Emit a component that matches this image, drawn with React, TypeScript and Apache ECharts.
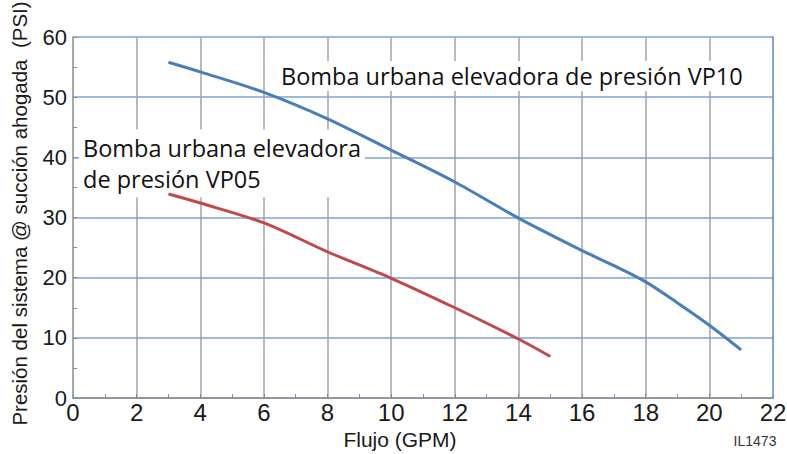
import React, { useEffect, useRef } from "react";
import * as echarts from "echarts";

const vp10Flow = [3, 4, 6, 8, 10, 12, 14, 16, 17, 18, 19, 20, 21];
const vp10Pressure = [55.8, 54.2, 50.8, 46.4, 41.2, 35.9, 29.9, 24.5, 22.0, 19.3, 15.8, 12.1, 8.0];
const vp05Flow = [3, 4, 6, 8, 10, 12, 14, 15];
const vp05Pressure = [33.9, 32.4, 29.1, 24.3, 19.9, 15.0, 9.8, 6.9];

const vp10Label = "Bomba urbana elevadora de presión VP10";
const vp05Label = "Bomba urbana elevadora\nde presión VP05";
const xAxisName = "Flujo (GPM)";
const yAxisName = "Presión del sistema @ succión ahogada  (PSI)";
const figureId = "IL1473";

const AXIS_FONT = '"Liberation Sans", Arial, sans-serif';
const NOTE_FONT = '"Open Sans", "Noto Sans", sans-serif';

export default function App() {
  const ref = useRef<HTMLDivElement>(null);
  useEffect(() => {
    if (!ref.current) return;
    const chart = echarts.init(ref.current, undefined, { renderer: "svg" });
    const option: any = {
      animation: false,
      backgroundColor: "#ffffff",
      grid: { left: 73, right: 14, top: 37, bottom: 56, containLabel: false, outerBoundsMode: "none" },
      xAxis: {
        type: "value",
        min: 0,
        max: 22,
        interval: 2,
        name: xAxisName,
        nameLocation: "middle",
        nameGap: 31,
        nameTextStyle: {
          fontFamily: AXIS_FONT,
          fontSize: 21,
          color: "#1a1a1a",
          padding: [0, 46, 0, 0],
        },
        axisLine: { show: true, lineStyle: { color: "#8c8c8c", width: 1.5 } },
        axisTick: { show: true, inside: true, length: 4, lineStyle: { color: "#8c8c8c" } },
        minorTick: { show: true, splitNumber: 2, length: 4, lineStyle: { color: "#8c8c8c", width: 1 } },
        axisLabel: {
          fontFamily: AXIS_FONT,
          fontSize: 24,
          color: "#1a1a1a",
          margin: 2,
        },
        splitLine: {
          show: true,
          showMinLine: false,
          showMaxLine: false,
          lineStyle: { color: "#a3a3a3", width: 1.5 },
        },
      },
      yAxis: [
        {
          type: "value",
          min: 0,
          max: 60,
          interval: 10,
          name: yAxisName,
          nameLocation: "middle",
          nameGap: 43,
          nameTextStyle: {
            fontFamily: AXIS_FONT,
            fontSize: 20.5,
            color: "#1a1a1a",
            padding: [0, 0, 0, 8],
          },
          axisLine: { show: true, lineStyle: { color: "#8c8c8c", width: 1.5 } },
          axisTick: { show: true, inside: true, length: 4, lineStyle: { color: "#8c8c8c" } },
          minorTick: { show: true, splitNumber: 2, length: 4, lineStyle: { color: "#8c8c8c", width: 1 } },
          axisLabel: {
            fontFamily: AXIS_FONT,
            fontSize: 22,
            color: "#1a1a1a",
            margin: 6,
            padding: [0, 0, 7, 0],
          },
          splitLine: { show: true, lineStyle: { color: "#7ea3d6", width: 1.5 } },
        },
        {
          type: "value",
          min: 0,
          max: 60,
          interval: 10,
          position: "right",
          axisLine: { show: true, lineStyle: { color: "#5b87c5", width: 1.5 } },
          axisTick: { show: false },
          axisLabel: { show: false },
          splitLine: { show: false },
        },
      ],
      series: [
        {
          type: "line",
          name: "VP10",
          data: vp10Flow.map((x, i) => [x, vp10Pressure[i]]),
          smooth: 0.3,
          showSymbol: false,
          symbol: "none",
          lineStyle: { color: "#4a7ebb", width: 3 },
          z: 3,
        },
        {
          type: "line",
          name: "VP05",
          data: vp05Flow.map((x, i) => [x, vp05Pressure[i]]),
          smooth: 0.3,
          showSymbol: false,
          symbol: "none",
          lineStyle: { color: "#be4b48", width: 3 },
          z: 3,
        },
      ],
      graphic: [
        {
          type: "text",
          z: 1,
          x: 277,
          y: 76,
          style: {
            text: vp10Label,
            font: `23.5px ${NOTE_FONT}`,
            fill: "#111111",
            backgroundColor: "#ffffff",
            padding: [3, 4, 3, 4],
            align: "left",
            verticalAlign: "middle",
          },
        },
        {
          type: "text",
          z: 1,
          x: 79,
          y: 163.5,
          style: {
            text: vp05Label,
            font: `23.5px ${NOTE_FONT}`,
            fill: "#111111",
            backgroundColor: "#ffffff",
            padding: [3, 4, 3, 4],
            lineHeight: 31,
            align: "left",
            verticalAlign: "middle",
          },
        },
        {
          type: "text",
          z: 1,
          x: 755,
          y: 441,
          style: {
            text: figureId,
            font: `14px ${AXIS_FONT}`,
            fill: "#333333",
            align: "center",
            verticalAlign: "middle",
          },
        },
      ],
    };
    chart.setOption(option);
    return () => chart.dispose();
  }, []);
  return (
    <div
      ref={ref}
      style={{ position: "fixed", left: 0, top: 0, width: 787, height: 454, background: "#fff" }}
    />
  );
}
